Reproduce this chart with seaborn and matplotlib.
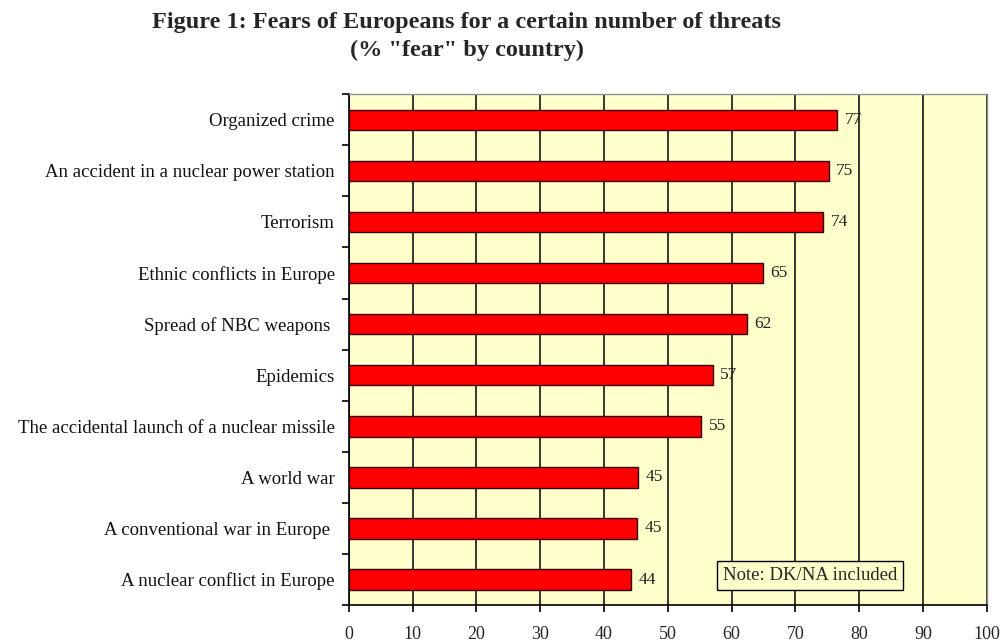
import pandas as pd
import matplotlib
matplotlib.use("Agg")
import matplotlib.pyplot as plt
import seaborn as sns

# Threats, share of respondents saying they fear them (%), and the printed labels
threats = ["Organized crime", "An accident in a nuclear power station", "Terrorism",
           "Ethnic conflicts in Europe", "Spread of NBC weapons ", "Epidemics",
           "The accidental launch of a nuclear missile", "A world war",
           "A conventional war in Europe ", "A nuclear conflict in Europe"]
fear_pct = [76.5, 75.2, 74.3, 64.9, 62.4, 57.0, 55.2, 45.3, 45.1, 44.2]
fear_labels = ["77", "75", "74", "65", "62", "57", "55", "45", "45", "44"]
x_ticks = [0, 10, 20, 30, 40, 50, 60, 70, 80, 90, 100]

df = pd.DataFrame({"threat": threats, "fear": fear_pct})

sns.set_style("white")
plt.rcParams["font.family"] = ["Liberation Serif", "DejaVu Serif"]

fig = plt.figure(figsize=(10.02, 6.41), dpi=100)
ax = fig.add_axes([0.348, 0.056, 0.637, 0.797])
ax.set_facecolor("#FFFFCC")

sns.barplot(data=df, x="fear", y="threat", orient="h", color="#FF0000",
            edgecolor="#300000", linewidth=1, width=0.4, saturation=1, ax=ax, zorder=3)

# value labels just right of each bar
for i, (v, lab) in enumerate(zip(fear_pct, fear_labels)):
    ax.text(v + 1.2, i, lab, va="center", ha="left", fontsize=12.5, color="#222222", zorder=4)

ax.set_xlim(0, 100)
ax.set_ylim(len(threats) - 0.5, -0.5)
ax.set_xticks(x_ticks)
ax.set_xticklabels([str(t) for t in x_ticks], fontsize=13)
ax.xaxis.grid(True, color="black", linewidth=1.1, zorder=1)
ax.set_axisbelow(True)

# category ticks sit on the boundaries between bars
ax.set_yticks([i - 0.5 for i in range(len(threats) + 1)], minor=False)
ax.set_yticklabels([])
ax.set_yticks(range(len(threats)), minor=True)
ax.set_yticklabels(threats, minor=True, fontsize=13.5, color="#111111")
ax.tick_params(axis="y", which="minor", length=0, pad=10)
ax.tick_params(axis="y", which="major", length=5, width=1.2, color="black", direction="out", left=True)
ax.tick_params(axis="x", length=5, width=1.2, color="black", direction="out", bottom=True, pad=10)
ax.set_xlabel("")
ax.set_ylabel("")

for side in ["left", "bottom"]:
    ax.spines[side].set_color("black")
    ax.spines[side].set_linewidth(1.2)
for side in ["top", "right"]:
    ax.spines[side].set_color("#909090")
    ax.spines[side].set_linewidth(1)

ax.text(58.6, 8.92, "Note: DK/NA included", fontsize=13.5, va="center", ha="left", zorder=5,
        bbox=dict(boxstyle="square,pad=0.3", facecolor="#FFFFCC", edgecolor="black", linewidth=1))

fig.text(0.466, 0.965, "Figure 1: Fears of Europeans for a certain number of threats",
         ha="center", va="center", fontsize=17.5, fontweight="bold")
fig.text(0.466, 0.921, '(% "fear" by country)', ha="center", va="center",
         fontsize=17.5, fontweight="bold")

fig.savefig("out.png", dpi=100, facecolor="white")
